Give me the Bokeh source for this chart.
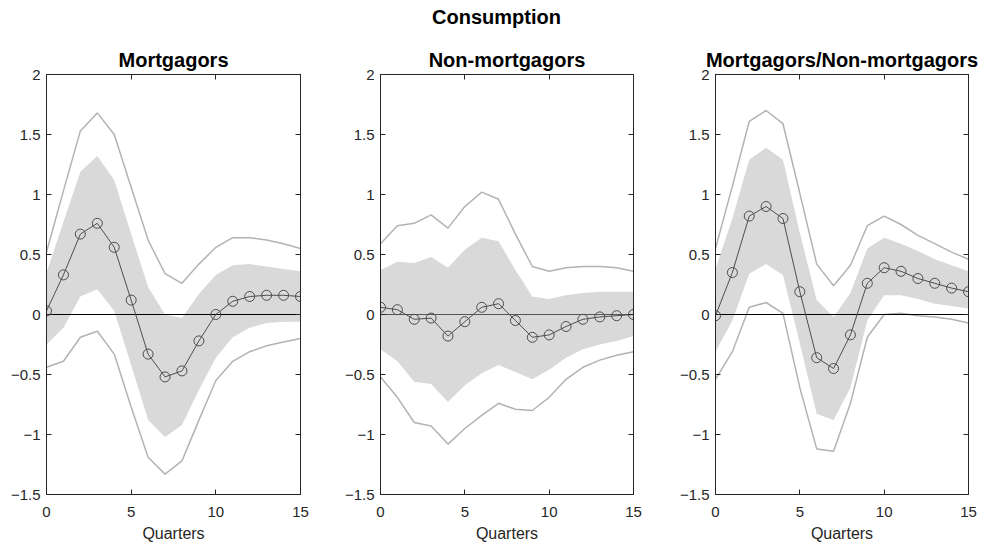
from bokeh.plotting import figure
from bokeh.layouts import column, row
from bokeh.models import Div, LinearAxis, FixedTicker
from bokeh.embed import file_html
from bokeh.resources import INLINE

# horizon (quarters)
quarters = list(range(16))

# Mortgagors: median, 68% band, 90% band
mort_med = [0.03, 0.33, 0.67, 0.76, 0.56, 0.12, -0.33, -0.52, -0.47, -0.22, 0.0, 0.11, 0.15, 0.16, 0.16, 0.15]
mort_hi90 = [0.52, 1.03, 1.53, 1.68, 1.50, 1.06, 0.62, 0.34, 0.26, 0.42, 0.56, 0.64, 0.64, 0.62, 0.59, 0.55]
mort_hi68 = [0.35, 0.77, 1.19, 1.32, 1.12, 0.67, 0.23, 0.0, -0.03, 0.17, 0.33, 0.41, 0.42, 0.40, 0.38, 0.36]
mort_lo68 = [-0.25, -0.11, 0.15, 0.21, 0.03, -0.42, -0.88, -1.02, -0.92, -0.63, -0.36, -0.19, -0.11, -0.07, -0.06, -0.06]
mort_lo90 = [-0.44, -0.39, -0.19, -0.14, -0.33, -0.77, -1.19, -1.33, -1.22, -0.88, -0.55, -0.39, -0.31, -0.26, -0.23, -0.20]

# Non-mortgagors
non_med = [0.06, 0.04, -0.04, -0.03, -0.18, -0.06, 0.06, 0.09, -0.05, -0.19, -0.17, -0.10, -0.04, -0.02, -0.01, 0.0]
non_hi90 = [0.59, 0.74, 0.76, 0.83, 0.72, 0.90, 1.02, 0.96, 0.67, 0.40, 0.36, 0.39, 0.40, 0.40, 0.39, 0.36]
non_hi68 = [0.37, 0.44, 0.43, 0.48, 0.39, 0.54, 0.64, 0.61, 0.37, 0.15, 0.13, 0.16, 0.18, 0.19, 0.19, 0.19]
non_lo68 = [-0.29, -0.39, -0.56, -0.58, -0.73, -0.59, -0.49, -0.42, -0.48, -0.54, -0.46, -0.36, -0.29, -0.25, -0.22, -0.18]
non_lo90 = [-0.52, -0.69, -0.90, -0.93, -1.08, -0.95, -0.84, -0.74, -0.79, -0.80, -0.69, -0.54, -0.44, -0.38, -0.34, -0.31]

# Mortgagors / Non-mortgagors
rat_med = [-0.01, 0.35, 0.82, 0.90, 0.80, 0.19, -0.36, -0.45, -0.17, 0.26, 0.39, 0.36, 0.30, 0.26, 0.22, 0.19]
rat_hi90 = [0.55, 1.07, 1.61, 1.70, 1.59, 1.01, 0.42, 0.24, 0.41, 0.74, 0.82, 0.75, 0.66, 0.59, 0.52, 0.46]
rat_hi68 = [0.38, 0.80, 1.29, 1.39, 1.29, 0.68, 0.12, -0.02, 0.18, 0.55, 0.64, 0.59, 0.53, 0.46, 0.41, 0.36]
rat_lo68 = [-0.31, -0.05, 0.34, 0.42, 0.33, -0.24, -0.83, -0.88, -0.61, -0.05, 0.16, 0.16, 0.13, 0.09, 0.07, 0.05]
rat_lo90 = [-0.54, -0.31, 0.06, 0.10, 0.01, -0.61, -1.12, -1.14, -0.74, -0.19, 0.0, 0.01, -0.01, -0.02, -0.04, -0.07]

titles = ["Mortgagors", "Non-mortgagors", "Mortgagors/Non-mortgagors"]
zero_colors = ["black", "#555555", "black"]
x_ticks = [0, 5, 10, 15]
y_ticks = [-1.5, -1, -0.5, 0, 0.5, 1, 1.5, 2]

FONT = "Liberation Sans"
AX = "#262626"


def panel(title, med, lo68, hi68, lo90, hi90, zero_color, left_border, right_border):
    p = figure(width=left_border + 254 + right_border, height=38 + 420 + 53,
               x_range=(0, 15), y_range=(-1.5, 2),
               min_border_left=left_border, min_border_right=right_border,
               min_border_top=38, min_border_bottom=53,
               output_backend="svg", toolbar_location=None, tools="")
    p.title.text = title
    p.title.align = "center"
    p.title.text_font = FONT
    p.title.text_font_size = "20px"
    p.title.text_font_style = "bold"
    p.title.text_color = "black"
    p.title.standoff = 8
    p.grid.visible = False
    p.outline_line_color = AX

    p.varea(x=quarters, y1=lo68, y2=hi68, fill_color="#d9d9d9")
    p.line(quarters, hi90, line_color="#b3b3b3", line_width=1.5)
    p.line(quarters, lo90, line_color="#b3b3b3", line_width=1.5)
    p.hspan(y=[0], line_color=zero_color, line_width=1)
    p.line(quarters, med, line_color="#4d4d4d", line_width=1)
    p.scatter(quarters, med, marker="circle", size=10, fill_color=None,
              line_color="#4d4d4d", line_width=1)

    p.xaxis.ticker = FixedTicker(ticks=x_ticks)
    p.yaxis.ticker = FixedTicker(ticks=y_ticks)
    p.xaxis.axis_label = "Quarters"
    p.xaxis.axis_label_text_font = FONT
    p.xaxis.axis_label_text_font_size = "16px"
    p.xaxis.axis_label_text_font_style = "normal"
    p.xaxis.axis_label_text_color = AX
    p.xaxis.axis_label_standoff = 5
    for ax in (p.xaxis[0], p.yaxis[0]):
        ax.major_label_text_font = FONT
        ax.major_label_text_font_size = "15px"
        ax.major_label_text_color = AX
        ax.axis_line_color = AX
        ax.major_tick_line_color = AX
        ax.major_tick_in = 5
        ax.major_tick_out = 0
        ax.minor_tick_line_color = None
    p.xaxis.major_label_standoff = 12
    p.yaxis.major_label_standoff = 6

    # box ticks on top and right, labels hidden
    top = LinearAxis(ticker=FixedTicker(ticks=x_ticks))
    right = LinearAxis(ticker=FixedTicker(ticks=y_ticks))
    for ax in (top, right):
        ax.major_label_text_font_size = "1px"
        ax.major_label_text_color = None
        ax.major_label_standoff = 0
        ax.axis_line_color = AX
        ax.major_tick_line_color = AX
        ax.major_tick_in = 5
        ax.major_tick_out = 0
        ax.minor_tick_line_color = None
    p.add_layout(top, "above")
    p.add_layout(right, "right")
    return p


p1 = panel(titles[0], mort_med, mort_lo68, mort_hi68, mort_lo90, mort_hi90, zero_colors[0], 46, 41)
p2 = panel(titles[1], non_med, non_lo68, non_hi68, non_lo90, non_hi90, zero_colors[1], 38, 43)
p3 = panel(titles[2], rat_med, rat_lo68, rat_hi68, rat_lo90, rat_hi90, zero_colors[2], 38, 25)

head = Div(text="Consumption", width=993, height=36, margin=0,
           styles={"font-family": FONT, "font-size": "20px", "font-weight": "bold",
                   "text-align": "center", "color": "black", "padding-top": "3px"})

layout = column(head, row(p1, p2, p3, spacing=0), spacing=0)

open("out.html", "w").write(file_html(layout, INLINE))
